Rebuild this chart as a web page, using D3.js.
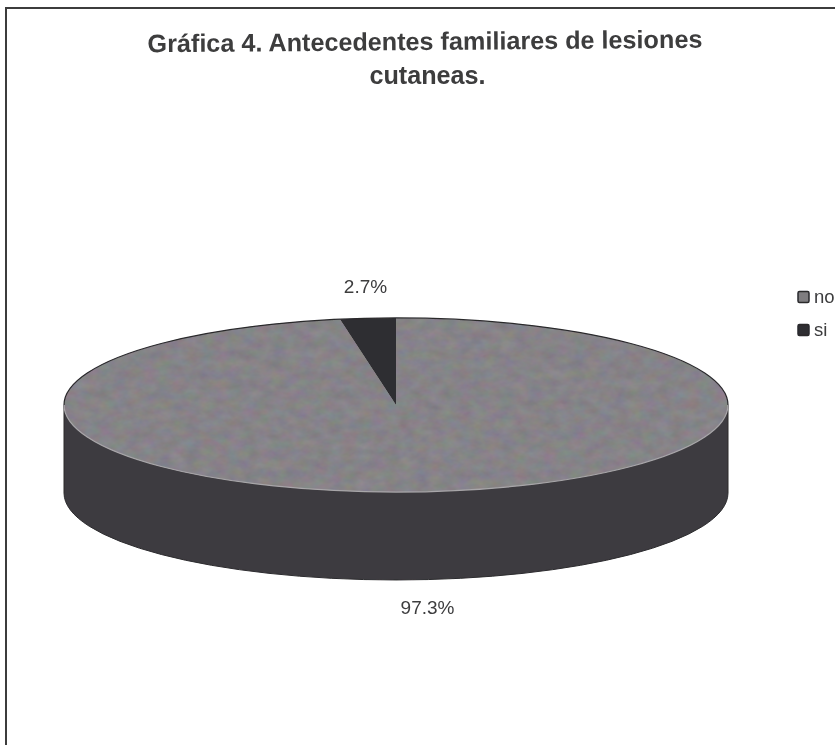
<!DOCTYPE html>
<html>
<head>
<meta charset="utf-8">
<script src="https://cdn.jsdelivr.net/npm/d3@7"></script>
<style>
html,body{margin:0;padding:0;background:#fff;overflow:hidden;}
svg{display:block;}
text{font-family:"Liberation Sans",Arial,sans-serif;fill:#3c3c3e;}
</style>
</head>
<body>
<div id="chart"></div>
<script>
const titleLines = ["Gráfica 4. Antecedentes familiares de lesiones", "cutaneas."];
const categories = ["no", "si"];
const values = [97.3, 2.7];
const labels = ["97.3%", "2.7%"];
const colors = ["#7f7d80", "#2f2d30"];
const wallColor = "#3d3b3f";

const W = 835, H = 745;
const svg = d3.select("#chart").append("svg").attr("width", W).attr("height", H);

const defs = svg.append("defs");
defs.append("filter").attr("id", "soft")
  .append("feGaussianBlur").attr("stdDeviation", 0.55);

// scanned look on the light face: soft edges plus a faint mottled grain
const grain = defs.append("filter").attr("id", "grain")
  .attr("x", "-2%").attr("y", "-2%").attr("width", "104%").attr("height", "104%");
grain.append("feGaussianBlur").attr("in", "SourceGraphic").attr("stdDeviation", 0.6).attr("result", "base");
grain.append("feTurbulence").attr("type", "fractalNoise")
  .attr("baseFrequency", "0.07 0.1").attr("numOctaves", 3).attr("seed", 4).attr("result", "noise");
grain.append("feColorMatrix").attr("in", "noise").attr("type", "matrix")
  .attr("values", "0.9 0 0 0 0  0 0.85 0 0 0  0 0 0.95 0 0  0 0 0 0 0.12")
  .attr("result", "tint");
grain.append("feComposite").attr("in", "tint").attr("in2", "base").attr("operator", "in").attr("result", "clipped");
const merge = grain.append("feMerge");
merge.append("feMergeNode").attr("in", "base");
merge.append("feMergeNode").attr("in", "clipped");

// frame: top and left rules only
const frame = d3.path();
frame.moveTo(6, H);
frame.lineTo(6, 8);
frame.lineTo(W, 8);
svg.append("path").attr("d", frame.toString())
  .attr("fill", "none").attr("stroke", "#3c3c3c").attr("stroke-width", 2);

// title (the first line sits slightly tilted in the scan)
const titlePos = [[425, 50, -0.47], [427.5, 83.5, 0]];
svg.append("g").attr("filter", "url(#soft)").selectAll("text").data(titleLines).join("text")
  .attr("transform", (d, i) => `translate(${titlePos[i][0]},${titlePos[i][1]}) rotate(${titlePos[i][2]})`)
  .attr("text-anchor", "middle").attr("font-size", 25.2).attr("font-weight", "bold")
  .text(d => d);

// pie geometry
const cx = 396, cy = 405, rx = 332, ry = 87, depth = 88;
const pie = d3.pie().sort(null).startAngle(0).endAngle(2 * Math.PI);
const arcs = pie(values);
const unit = d3.arc().innerRadius(0).outerRadius(rx);
const rim = d3.arc().innerRadius(rx).outerRadius(rx);
const transformFace = `translate(${cx},${cy}) scale(1,${ry / rx})`;

// side wall
const wallD = `M${cx - rx},${cy} L${cx - rx},${cy + depth} A${rx},${ry} 0 0 0 ${cx + rx},${cy + depth} L${cx + rx},${cy} A${rx},${ry} 0 0 1 ${cx - rx},${cy} Z`;
svg.append("path").attr("d", wallD).attr("filter", "url(#soft)")
  .attr("fill", wallColor).attr("stroke", "#2c2b2e").attr("stroke-width", 1);

// top face
svg.append("g").attr("filter", "url(#grain)")
  .append("g").attr("transform", transformFace)
  .selectAll("path.slice").data(arcs.slice(0, 1)).join("path")
  .attr("class", "slice")
  .attr("d", unit)
  .attr("fill", colors[0]);

const faceTop = svg.append("g").attr("filter", "url(#soft)")
  .append("g").attr("transform", transformFace);
faceTop.selectAll("path.slice").data(arcs.slice(1)).join("path")
  .attr("class", "slice")
  .attr("d", unit)
  .attr("fill", colors[1]);

// rim: dark along the back, light along the front
const rims = [
  { startAngle: -Math.PI / 2, endAngle: Math.PI / 2, color: "#2a292c" },
  { startAngle: Math.PI / 2, endAngle: 3 * Math.PI / 2, color: "#a8a6a9" }
];
faceTop.selectAll("path.rim").data(rims).join("path")
  .attr("class", "rim")
  .attr("d", d => rim(d))
  .attr("fill", "none")
  .attr("stroke", d => d.color).attr("stroke-width", 1.2)
  .attr("vector-effect", "non-scaling-stroke");

// data labels
const labelPos = [[427.5, 614], [365.5, 293]];
svg.append("g").attr("filter", "url(#soft)").selectAll("text").data(labels).join("text")
  .attr("x", (d, i) => labelPos[i][0]).attr("y", (d, i) => labelPos[i][1])
  .attr("text-anchor", "middle").attr("font-size", 19)
  .text(d => d);

// legend
const legend = svg.append("g").attr("filter", "url(#soft)");
const legendY = d3.scalePoint().domain(categories).range([297, 330]);
legend.selectAll("rect").data(categories).join("rect")
  .attr("x", 798).attr("y", d => legendY(d) - 5.5).attr("width", 11).attr("height", 11)
  .attr("rx", 1.5)
  .attr("fill", (d, i) => colors[i]).attr("stroke", "#2a2a2c").attr("stroke-width", 1.5);
legend.selectAll("text").data(categories).join("text")
  .attr("x", 814).attr("y", d => legendY(d) + 6)
  .attr("font-size", 18.5)
  .text(d => d);
</script>
</body>
</html>
